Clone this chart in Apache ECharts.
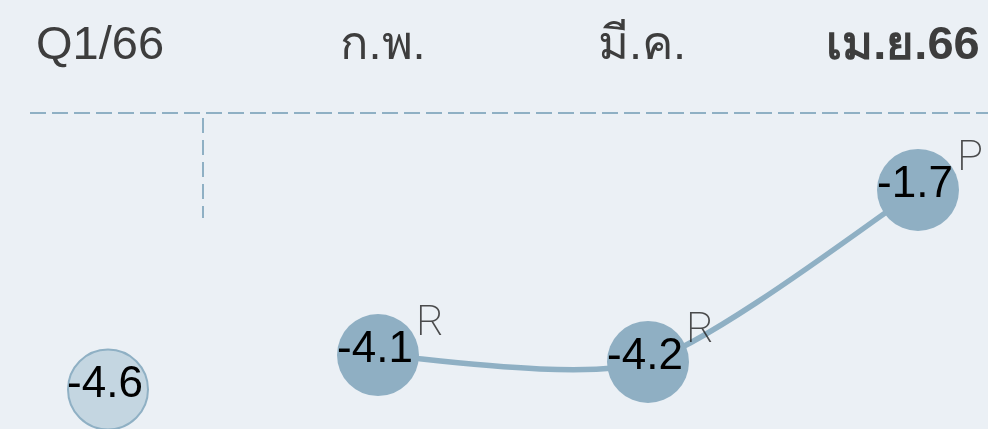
<!DOCTYPE html>
<html>
<head>
<meta charset="utf-8">
<script src="https://cdn.jsdelivr.net/npm/echarts@6/dist/echarts.min.js"></script>
<style>
html,body{margin:0;padding:0;background:#ebf0f5;}
#c{width:988px;height:429px;}
</style>
</head>
<body>
<div id="c"></div>
<script>
const categories = ['Q1/66', 'ก.พ.', 'มี.ค.', 'เม.ย.66'];
const quarterValues = [-4.6, null, null, null];
const monthValues = [null, -4.1, -4.2, -1.7];
const flags = ['', 'R', 'R', 'P'];

const fmt = v => String(v);
const chart = echarts.init(document.getElementById('c'));
const labelFont = "'Liberation Sans', Arial, 'Noto Sans', 'DejaVu Sans', sans-serif";

// cardinal spline path through screen points
function cardinalPath(pts, k) {
  let d = 'M' + pts[0][0] + ',' + pts[0][1];
  for (let i = 0; i < pts.length - 1; i++) {
    const p0 = pts[Math.max(i - 1, 0)], p1 = pts[i], p2 = pts[i + 1], p3 = pts[Math.min(i + 2, pts.length - 1)];
    const c1x = p1[0] + k * (p2[0] - p0[0]), c1y = p1[1] + k * (p2[1] - p0[1]);
    const c2x = p2[0] - k * (p3[0] - p1[0]), c2y = p2[1] - k * (p3[1] - p1[1]);
    d += 'C' + c1x + ',' + c1y + ',' + c2x + ',' + c2y + ',' + p2[0] + ',' + p2[1];
  }
  return d;
}

const lineData = [];
monthValues.forEach((v, i) => { if (v !== null) lineData.push([i, v]); });

const labelStyles = ['s0', 's1', 's2', 's3'];
const baseLabel = { fontSize: 47, color: '#3d3d3d', fontFamily: labelFont };

chart.setOption({
  backgroundColor: '#ebf0f5',
  animation: false,
  grid: { left: 108, right: 70, top: 73, bottom: 12, containLabel: false, outerBoundsMode: 'none' },
  xAxis: {
    type: 'category',
    position: 'top',
    data: categories,
    boundaryGap: false,
    axisLine: { show: false },
    axisTick: { show: false },
    splitLine: { show: false },
    axisLabel: {
      margin: 27,
      verticalAlign: 'middle',
      interval: 0,
      formatter: (v, i) => '{' + labelStyles[i] + '|' + v + '}',
      rich: {
        s0: Object.assign({}, baseLabel, { padding: [0, 16, 0, 0] }),
        s1: Object.assign({}, baseLabel, { padding: [0, 0, 0, 10] }),
        s2: Object.assign({}, baseLabel, { padding: [0, 12, 0, 0] }),
        s3: Object.assign({}, baseLabel, { fontWeight: 'bold', padding: [0, 30, 0, 0] })
      }
    }
  },
  yAxis: {
    type: 'value',
    min: -5,
    max: 0,
    show: false
  },
  graphic: [
    {
      type: 'line', silent: true, z: 0,
      shape: { x1: 30, y1: 113, x2: 988, y2: 113 },
      style: { stroke: '#8fb0c4', lineWidth: 2, lineDash: [16, 6] }
    },
    {
      type: 'line', silent: true, z: 0,
      shape: { x1: 203, y1: 118, x2: 203, y2: 218 },
      style: { stroke: '#8fb0c4', lineWidth: 2, lineDash: [15, 7] }
    }
  ],
  series: [
    {
      name: 'curve',
      type: 'custom',
      data: lineData,
      z: 2,
      clip: false,
      renderItem: (params, api) => {
        if (params.dataIndex !== 0) return null;
        const pts = lineData.map(d => api.coord(d));
        return {
          type: 'path',
          shape: { pathData: cardinalPath(pts, 0.125) },
          style: { stroke: '#8fb0c4', lineWidth: 5.5, fill: 'none' }
        };
      }
    },
    {
      name: 'quarter',
      type: 'line',
      data: quarterValues,
      symbol: 'circle',
      symbolSize: 80,
      showSymbol: true,
      lineStyle: { width: 0 },
      itemStyle: { color: '#c4d6e1', borderColor: '#8fb0c4', borderWidth: 2 },
      label: {
        show: true, position: 'inside', offset: [-3, -5],
        fontSize: 44, color: '#000', fontFamily: labelFont,
        formatter: p => fmt(p.value)
      },
      z: 3
    },
    {
      name: 'month',
      type: 'line',
      data: monthValues,
      symbol: 'circle',
      symbolSize: 82,
      showSymbol: true,
      lineStyle: { width: 0, opacity: 0 },
      itemStyle: { color: '#8fafc3' },
      label: {
        show: true, position: 'inside', offset: [-3, -5],
        fontSize: 44, color: '#000', fontFamily: labelFont,
        formatter: p => fmt(p.value)
      },
      z: 3
    },
    {
      name: 'flags',
      type: 'scatter',
      data: monthValues.map((v, i) => v === null ? quarterValues[i] : v),
      symbolSize: 1,
      itemStyle: { color: 'rgba(0,0,0,0)' },
      label: {
        show: true, position: 'inside', offset: [52, -31],
        fontSize: 43, color: '#222', fontWeight: 200,
        fontFamily: "Roboto, 'Liberation Sans', sans-serif",
        formatter: p => flags[p.dataIndex]
      },
      z: 4
    }
  ]
});
</script>
</body>
</html>
